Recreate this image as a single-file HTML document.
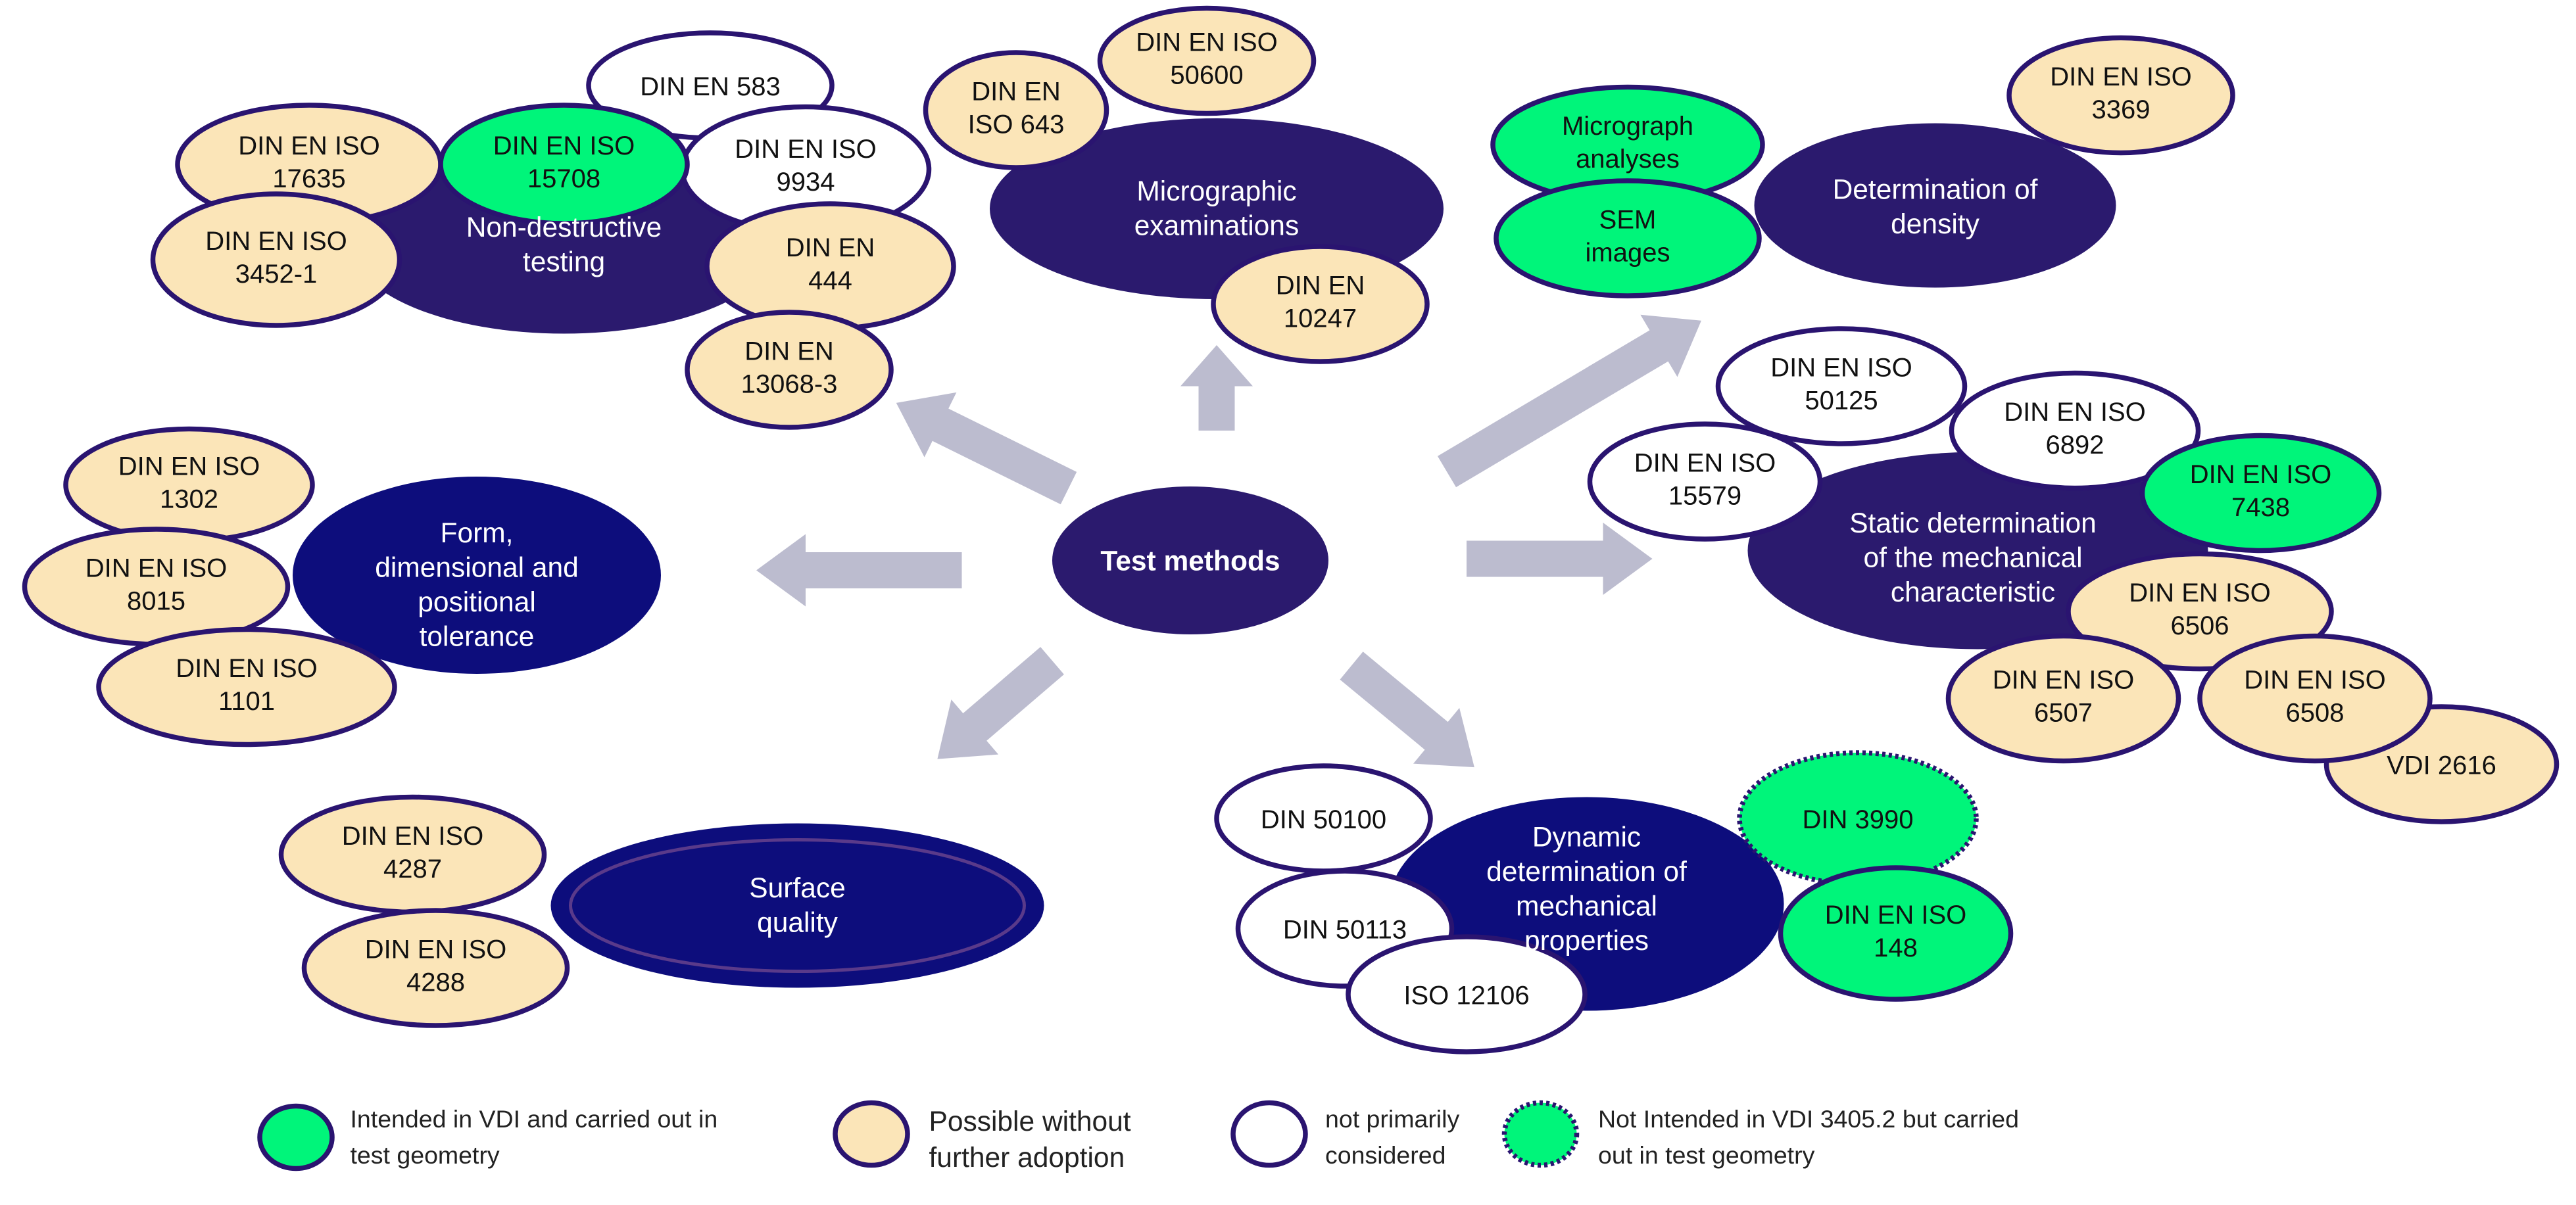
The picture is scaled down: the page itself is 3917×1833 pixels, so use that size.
<!DOCTYPE html>
<html><head><meta charset="utf-8"><style>
html,body{margin:0;padding:0;background:#fff;}
svg{display:block;}
text{font-family:"Liberation Sans",Arial,sans-serif;text-anchor:middle;}
.d{fill:#111;font-size:16px;}
.w{fill:#fff;font-size:17px;}
.l{fill:#222;font-size:15px;text-anchor:start;}
.t{fill:#fbe5b8;stroke:#2a1470;stroke-width:3;}
.g{fill:#00f57a;stroke:#2a1470;stroke-width:3;}
.o{fill:#fff;stroke:#2a1470;stroke-width:3;}
.p{fill:#2b1a6e;}
.n{fill:#0d0d7c;}
.a{fill:#bcbccf;}
</style></head><body>
<svg width="3917" height="1833" viewBox="0 0 1566.8 733.2" xmlns="http://www.w3.org/2000/svg">
<!-- arrows -->
<g class="a">
<g transform="translate(740,262) rotate(-90)"><polygon points="0,-11 27,-11 27,-22 52,0 27,22 27,11 0,11"/></g>
<g transform="translate(650,297) rotate(-153.7)"><polygon points="0,-11 87,-11 87,-22 117,0 87,22 87,11 0,11"/></g>
<g transform="translate(880,287) rotate(-30.7)"><polygon points="0,-11 150,-11 150,-22 180,0 150,22 150,11 0,11"/></g>
<g transform="translate(585,347) rotate(180)"><polygon points="0,-11 95,-11 95,-22 125,0 95,22 95,11 0,11"/></g>
<g transform="translate(892,340)"><polygon points="0,-11 83,-11 83,-22 113,0 83,22 83,11 0,11"/></g>
<g transform="translate(640,402) rotate(139.4)"><polygon points="0,-11 62,-11 62,-22 92,0 62,22 62,11 0,11"/></g>
<g transform="translate(822,405) rotate(39.6)"><polygon points="0,-11 67,-11 67,-22 97,0 67,22 67,11 0,11"/></g>
</g>

<!-- Test methods -->
<ellipse class="p" cx="724" cy="341" rx="84" ry="45"/>
<text x="724" y="347" fill="#fff" style="font-size:17px;font-weight:bold">Test methods</text>

<!-- Non-destructive -->
<ellipse class="p" cx="343" cy="148" rx="130" ry="55"/>
<ellipse class="o" cx="432" cy="52" rx="74" ry="32"/><text class="d" x="432" y="58">DIN EN 583</text>
<ellipse class="o" cx="490" cy="103" rx="75" ry="38"/><text class="d" x="490" y="96">DIN EN ISO</text><text class="d" x="490" y="116">9934</text>
<ellipse class="t" cx="188" cy="100" rx="80" ry="36"/><text class="d" x="188" y="94">DIN EN ISO</text><text class="d" x="188" y="114">17635</text>
<ellipse class="g" cx="343" cy="100" rx="75" ry="36"/><text class="d" x="343" y="94">DIN EN ISO</text><text class="d" x="343" y="114">15708</text>
<ellipse class="t" cx="168" cy="158" rx="75" ry="40"/><text class="d" x="168" y="152">DIN EN ISO</text><text class="d" x="168" y="172">3452-1</text>
<ellipse class="t" cx="505" cy="162" rx="75" ry="38"/><text class="d" x="505" y="156">DIN EN</text><text class="d" x="505" y="176">444</text>
<ellipse class="t" cx="480" cy="225" rx="62" ry="35"/><text class="d" x="480" y="219">DIN EN</text><text class="d" x="480" y="239">13068-3</text>
<text class="w" x="343" y="144">Non-destructive</text><text class="w" x="343" y="165">testing</text>

<!-- Micrographic -->
<ellipse class="p" cx="740" cy="127" rx="138" ry="55"/>
<ellipse class="t" cx="734" cy="37" rx="65" ry="32"/><text class="d" x="734" y="31">DIN EN ISO</text><text class="d" x="734" y="51">50600</text>
<ellipse class="t" cx="618" cy="67" rx="55" ry="35"/><text class="d" x="618" y="61">DIN EN</text><text class="d" x="618" y="81">ISO 643</text>
<ellipse class="t" cx="803" cy="185" rx="65" ry="35"/><text class="d" x="803" y="179">DIN EN</text><text class="d" x="803" y="199">10247</text>
<text class="w" x="740" y="122">Micrographic</text><text class="w" x="740" y="143">examinations</text>

<!-- Density -->
<ellipse class="p" cx="1177" cy="125" rx="110" ry="50"/>
<ellipse class="g" cx="990" cy="88" rx="82" ry="35"/><text class="d" x="990" y="82">Micrograph</text><text class="d" x="990" y="102">analyses</text>
<ellipse class="g" cx="990" cy="145" rx="80" ry="35"/><text class="d" x="990" y="139">SEM</text><text class="d" x="990" y="159">images</text>
<ellipse class="t" cx="1290" cy="58" rx="68" ry="35"/><text class="d" x="1290" y="52">DIN EN ISO</text><text class="d" x="1290" y="72">3369</text>
<text class="w" x="1177" y="121">Determination of</text><text class="w" x="1177" y="142">density</text>

<!-- Static -->
<ellipse class="p" cx="1203" cy="335" rx="140" ry="60"/>
<ellipse class="o" cx="1120" cy="235" rx="75" ry="35"/><text class="d" x="1120" y="229">DIN EN ISO</text><text class="d" x="1120" y="249">50125</text>
<ellipse class="o" cx="1262" cy="262" rx="75" ry="35"/><text class="d" x="1262" y="256">DIN EN ISO</text><text class="d" x="1262" y="276">6892</text>
<ellipse class="o" cx="1037" cy="293" rx="70" ry="35"/><text class="d" x="1037" y="287">DIN EN ISO</text><text class="d" x="1037" y="307">15579</text>
<ellipse class="g" cx="1375" cy="300" rx="72" ry="35"/><text class="d" x="1375" y="294">DIN EN ISO</text><text class="d" x="1375" y="314">7438</text>
<text class="w" x="1200" y="324">Static determination</text><text class="w" x="1200" y="345">of the mechanical</text><text class="w" x="1200" y="366">characteristic</text>
<ellipse class="t" cx="1338" cy="372" rx="80" ry="35"/><text class="d" x="1338" y="366">DIN EN ISO</text><text class="d" x="1338" y="386">6506</text>
<ellipse class="t" cx="1485" cy="465" rx="70" ry="35"/><text class="d" x="1485" y="471">VDI 2616</text>
<ellipse class="t" cx="1255" cy="425" rx="70" ry="38"/><text class="d" x="1255" y="419">DIN EN ISO</text><text class="d" x="1255" y="439">6507</text>
<ellipse class="t" cx="1408" cy="425" rx="70" ry="38"/><text class="d" x="1408" y="419">DIN EN ISO</text><text class="d" x="1408" y="439">6508</text>

<!-- Form -->
<ellipse class="n" cx="290" cy="350" rx="112" ry="60"/>
<ellipse class="t" cx="115" cy="295" rx="75" ry="34"/><text class="d" x="115" y="289">DIN EN ISO</text><text class="d" x="115" y="309">1302</text>
<ellipse class="t" cx="95" cy="357" rx="80" ry="35"/><text class="d" x="95" y="351">DIN EN ISO</text><text class="d" x="95" y="371">8015</text>
<ellipse class="t" cx="150" cy="418" rx="90" ry="35"/><text class="d" x="150" y="412">DIN EN ISO</text><text class="d" x="150" y="432">1101</text>
<text class="w" x="290" y="330">Form,</text><text class="w" x="290" y="351">dimensional and</text><text class="w" x="290" y="372">positional</text><text class="w" x="290" y="393">tolerance</text>

<!-- Surface -->
<ellipse class="n" cx="485" cy="551" rx="150" ry="50"/>
<ellipse cx="485" cy="551" rx="138" ry="40" fill="none" stroke="#5a3a8a" stroke-width="2"/>
<text class="w" x="485" y="546">Surface</text><text class="w" x="485" y="567">quality</text>
<ellipse class="t" cx="251" cy="520" rx="80" ry="35"/><text class="d" x="251" y="514">DIN EN ISO</text><text class="d" x="251" y="534">4287</text>
<ellipse class="t" cx="265" cy="589" rx="80" ry="35"/><text class="d" x="265" y="583">DIN EN ISO</text><text class="d" x="265" y="603">4288</text>

<!-- Dynamic -->
<ellipse class="n" cx="965" cy="550" rx="120" ry="65"/>
<ellipse class="o" cx="805" cy="498" rx="65" ry="32"/><text class="d" x="805" y="504">DIN 50100</text>
<ellipse class="o" cx="818" cy="565" rx="65" ry="35"/><text class="d" x="818" y="571">DIN 50113</text>
<ellipse class="o" cx="892" cy="605" rx="72" ry="35"/><text class="d" x="892" y="611">ISO 12106</text>
<text class="w" x="965" y="515">Dynamic</text><text class="w" x="965" y="536">determination of</text><text class="w" x="965" y="557">mechanical</text><text class="w" x="965" y="578">properties</text>
<ellipse cx="1130" cy="498" rx="72" ry="40" fill="#00f57a" stroke="#2a1470" stroke-width="3" stroke-dasharray="2,2"/><text class="d" x="1130" y="504">DIN 3990</text>
<ellipse class="g" cx="1153" cy="568" rx="70" ry="40"/><text class="d" x="1153" y="562">DIN EN ISO</text><text class="d" x="1153" y="582">148</text>

<!-- Legend -->
<ellipse class="g" cx="180" cy="692" rx="22" ry="19"/>
<text class="l" x="213" y="686">Intended in VDI and carried out in</text><text class="l" x="213" y="708">test geometry</text>
<ellipse class="t" cx="530" cy="690" rx="22" ry="19"/>
<text class="l" x="565" y="688" style="font-size:17px">Possible without</text><text class="l" x="565" y="710" style="font-size:17px">further adoption</text>
<ellipse class="o" cx="772" cy="690" rx="22" ry="19"/>
<text class="l" x="806" y="686">not primarily</text><text class="l" x="806" y="708">considered</text>
<ellipse cx="937" cy="690" rx="22" ry="19" fill="#00f57a" stroke="#2a1470" stroke-width="3" stroke-dasharray="2,2"/>
<text class="l" x="972" y="686">Not Intended in VDI 3405.2 but carried</text><text class="l" x="972" y="708">out in test geometry</text>
</svg>
</body></html>
